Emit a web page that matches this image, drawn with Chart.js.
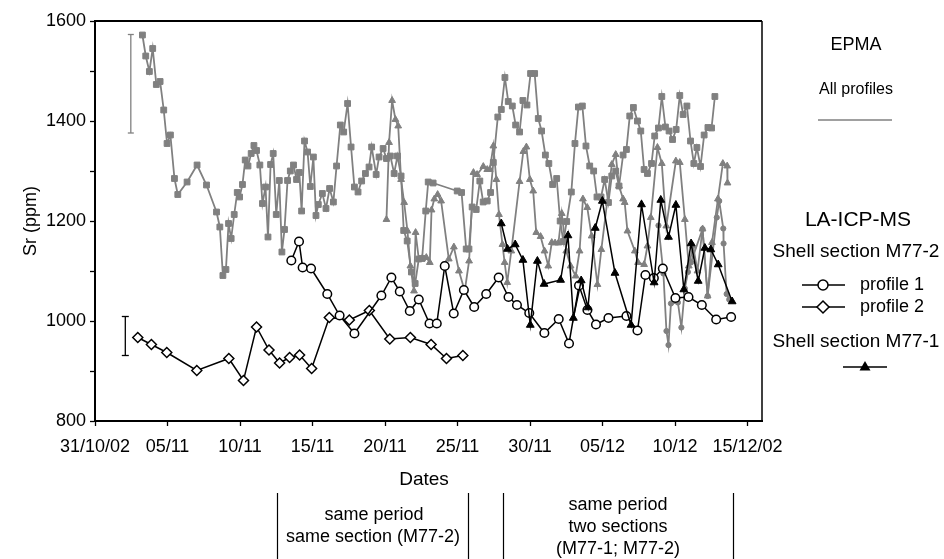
<!DOCTYPE html>
<html>
<head>
<meta charset="utf-8">
<script src="https://cdn.jsdelivr.net/npm/chart.js@4.4.1/dist/chart.umd.min.js"></script>
<style>
  html, body { margin: 0; padding: 0; background: #fff; }
  #wrap { width: 944px; height: 559px; }
</style>
</head>
<body>
<div id="wrap"><canvas id="c" width="944" height="559"></canvas></div>
<script>
// x values are days counted from 31/10/02
const xTickDays   = [0, 5, 10, 15, 20, 25, 30, 35, 40, 45];
const xTickLabels = ['31/10/02', '05/11', '10/11', '15/11', '20/11', '25/11', '30/11', '05/12', '10/12', '15/12/02'];
const yTickValues = [800, 900, 1000, 1100, 1200, 1300, 1400, 1500, 1600];

// EPMA, profile drawn with squares
const epmaSqDays = [3.27,3.50,3.75,3.98,4.23,4.49,4.74,4.97,5.20,5.48,5.71,6.35,7.04,7.69,8.38,8.61,8.82,9.03,9.21,9.39,9.60,9.81,9.97,10.17,10.36,10.55,10.77,10.96,11.14,11.37,11.55,11.76,11.93,12.11,12.29,12.50,12.71,12.89,13.07,13.28,13.47,13.69,13.90,14.09,14.25,14.45,14.66,14.85,15.06,15.24,15.40,15.68,15.93,16.18,16.44,16.66,16.92,17.15,17.42,17.66,17.89,18.14,18.39,18.65,18.90,19.08,19.39,19.59,19.87,20.10,20.37,20.63,20.86,21.11,21.29,21.53,21.82,22.08,22.33,22.56,22.81,22.98,23.32,24.98,25.28,25.60,25.79,26.01,26.29,26.54,26.77,27.05,27.28,27.47,27.78,28.02,28.27,28.50,28.78,29.01,29.28,29.51,29.79,30.04,30.32,30.57,30.80,31.06,31.30,31.56,31.84,32.08,32.30,32.53,32.85,33.10,33.34,33.61,33.86,34.12,34.39,34.62,34.90,35.15,35.41,35.64,35.91,36.14,36.42,36.65,36.88,37.13,37.41,37.64,37.87,38.10,38.38,38.60,38.86,39.09,39.34,39.59,39.83,40.08,40.33,40.56,40.82,41.07,41.30,41.51,41.76,42.01,42.27,42.52,42.75];
const epmaSqSr   = [1572,1530,1499,1545,1473,1479,1422,1355,1372,1285,1253,1278,1312,1272,1218,1188,1091,1103,1195,1165,1213,1257,1248,1273,1322,1310,1335,1351,1341,1312,1235,1268,1168,1313,1335,1213,1281,1138,1183,1281,1300,1312,1283,1297,1220,1360,1338,1269,1328,1211,1233,1255,1225,1265,1238,1310,1392,1378,1435,1348,1268,1258,1280,1295,1308,1348,1293,1328,1345,1325,1330,1295,1330,1290,1181,1160,1098,1075,1124,1125,1220,1278,1276,1260,1257,1144,1144,1228,1223,1280,1238,1240,1257,1317,1408,1423,1487,1439,1430,1392,1378,1441,1432,1495,1495,1405,1380,1332,1315,1273,1285,1200,1159,1199,1258,1355,1428,1430,1350,1310,1300,1248,1248,1283,1237,1290,1300,1270,1332,1343,1410,1427,1400,1380,1303,1295,1315,1370,1386,1449,1388,1380,1363,1383,1451,1413,1430,1360,1315,1347,1309,1372,1387,1386,1449];

// EPMA, profile drawn with triangles
const epmaTriDays = [20.10,20.28,20.49,20.72,20.91,21.11,21.32,21.55,21.75,22.00,22.11,22.33,22.56,22.85,23.09,23.21,23.40,23.63,23.87,24.40,24.75,25.10,25.50,25.80,26.10,26.35,26.78,27.05,27.23,27.47,27.68,27.86,28.10,28.25,28.43,28.71,29.28,29.54,29.75,29.99,30.22,30.43,30.73,31.00,31.26,31.50,31.73,31.96,32.19,32.50,32.80,33.15,33.42,33.65,33.95,34.25,34.65,34.92,35.64,35.91,36.14,36.42,36.53,36.72,37.23,37.45,37.87,38.10,38.33,38.79,39.09,39.40,40.06,40.33,40.68,40.95,41.25,41.55,41.90,42.25,42.55,42.96,43.30,43.60,43.62];
const epmaTriSr   = [1203,1357,1441,1403,1390,1283,1237,1180,1110,1060,1177,1124,1125,1127,1117,1222,1244,1253,1240,1124,1148,1100,1060,1120,1297,1293,1309,1303,1303,1350,1283,1213,1153,1117,1077,1140,1279,1339,1348,1283,1260,1177,1169,1140,1110,1157,1156,1156,1215,1140,1110,1090,1140,1244,1227,1170,1073,1143,1313,1333,1270,1244,1237,1180,1140,1117,1113,1150,1207,1347,1315,1190,1320,1317,1203,1110,1150,1100,1184,1050,1157,1244,1315,1310,1276];

// EPMA, profile drawn with small circles
const epmaCirDays = [38.86,39.20,39.41,39.55,39.72,40.20,40.44,40.68,40.89,41.10,41.90,42.25,42.88,43.05,43.33,43.35,43.56,43.74];
const epmaCirSr   = [1191,1095,980,952,1035,1037,987,1065,1098,1117,1184,1050,1207,1240,1185,1155,1054,1043];

// LA-ICP-MS, shell section M77-2, profile 1
const p1Days = [13.54,14.07,14.32,14.90,16.02,16.87,17.89,19.75,20.44,21.02,21.71,22.33,23.07,23.57,24.12,24.74,25.44,26.15,26.98,27.84,28.52,29.10,29.95,30.99,31.98,32.69,33.38,33.96,34.55,35.41,36.65,37.41,37.96,38.54,39.16,40.03,40.93,41.85,42.84,43.87];
const p1Sr   = [1121,1159,1107,1105,1054,1011,975,1051,1087,1059,1020,1043,995,995,1110,1015,1062,1028,1054,1087,1048,1032,1016,976,1004,955,1071,1022,993,1006,1010,981,1092,1086,1105,1046,1048,1032,1003,1008];

// LA-ICP-MS, shell section M77-2, profile 2
const p2Days = [2.95,3.89,4.95,7.02,9.23,10.24,11.14,12.00,12.73,13.42,14.11,14.94,16.16,17.54,18.92,20.33,21.75,23.18,24.24,25.37];
const p2Sr   = [967,953,937,901,925,881,988,942,916,927,932,905,1007,1002,1021,964,967,953,925,931];

// LA-ICP-MS, shell section M77-1
const m771Days = [28.02,28.45,28.98,29.51,30.02,30.51,30.97,32.11,32.62,32.99,33.53,34.00,34.50,34.99,35.86,36.97,37.69,38.56,39.02,39.55,40.06,40.61,41.11,41.60,42.06,42.47,42.98,43.94];
const m771Sr   = [1195,1144,1153,1122,992,1120,1074,1082,1171,1006,1081,1027,1186,1240,1096,992,1233,1077,1242,1168,1232,1063,1155,1080,1146,1143,1113,1039];

// error bars: [day, low, high]
const epmaErr = [2.47, 1376, 1573];
const laErr   = [2.09, 931, 1009];

const GREY = '#808080';
const FONT = "'Liberation Sans', Arial, sans-serif";

const pts = (xs, ys) => xs.map((x, i) => ({ x, y: ys[i] }));
const bar = e => [{ x: e[0], y: e[1] }, { x: e[0], y: e[2] }];

Chart.defaults.font.family = FONT;
Chart.defaults.color = '#000';

// frame, axis titles, legend block and period brackets
const extras = {
  id: 'extras',
  afterDraw(chart) {
    const ctx = chart.ctx;
    const a = chart.chartArea;
    ctx.save();
    ctx.strokeStyle = '#000';
    ctx.lineWidth = 2;
    ctx.beginPath();
    ctx.moveTo(a.left, a.top);
    ctx.lineTo(a.right, a.top);
    ctx.stroke();
    ctx.lineWidth = 1.5;
    ctx.beginPath();
    ctx.moveTo(a.right, a.top);
    ctx.lineTo(a.right, a.bottom);
    ctx.stroke();

    ctx.fillStyle = '#000';
    ctx.textAlign = 'center';
    ctx.textBaseline = 'middle';

    // y title
    ctx.save();
    ctx.translate(31, (a.top + a.bottom) / 2);
    ctx.rotate(-Math.PI / 2);
    ctx.font = '18px ' + FONT;
    ctx.fillText('Sr (ppm)', 0, 0);
    ctx.restore();

    // x title
    ctx.font = '19px ' + FONT;
    ctx.fillText('Dates', 424, 480);

    // period brackets
    ctx.lineWidth = 1.2;
    ctx.beginPath();
    [277, 468, 503, 733].forEach(x => { ctx.moveTo(x + 0.5, 493); ctx.lineTo(x + 0.5, 559); });
    ctx.stroke();
    ctx.font = '18px ' + FONT;
    ctx.fillText('same period', 374, 515);
    ctx.fillText('same section (M77-2)', 373, 537);
    ctx.fillText('same period', 618, 505);
    ctx.fillText('two sections', 618, 527);
    ctx.fillText('(M77-1; M77-2)', 618, 549);

    // legend block
    const cx = 856;
    ctx.font = '18px ' + FONT;
    ctx.fillText('EPMA', cx, 45);
    ctx.font = '16px ' + FONT;
    ctx.fillText('All profiles', cx, 90);
    ctx.strokeStyle = GREY;
    ctx.lineWidth = 1.5;
    ctx.beginPath(); ctx.moveTo(818, 120); ctx.lineTo(892, 120); ctx.stroke();

    ctx.font = '21px ' + FONT;
    ctx.fillText('LA-ICP-MS', 858, 220);
    ctx.font = '19px ' + FONT;
    ctx.fillText('Shell section M77-2', cx, 252);
    ctx.fillText('Shell section M77-1', cx, 342);
    ctx.font = '18px ' + FONT;
    ctx.textAlign = 'left';
    ctx.fillText('profile 1', 860, 285);
    ctx.fillText('profile 2', 860, 307);

    ctx.strokeStyle = '#000';
    ctx.lineWidth = 1.3;
    ctx.beginPath();
    ctx.moveTo(802, 285); ctx.lineTo(845, 285);
    ctx.moveTo(802, 307); ctx.lineTo(845, 307);
    ctx.moveTo(843, 367); ctx.lineTo(887, 367);
    ctx.stroke();
    ctx.fillStyle = '#fff';
    ctx.lineWidth = 1.5;
    ctx.beginPath();
    ctx.arc(823, 285, 5, 0, Math.PI * 2);
    ctx.fill(); ctx.stroke();
    ctx.beginPath();
    ctx.moveTo(823, 301); ctx.lineTo(829, 307); ctx.lineTo(823, 313); ctx.lineTo(817, 307); ctx.closePath();
    ctx.fill(); ctx.stroke();
    ctx.fillStyle = '#000';
    ctx.beginPath();
    ctx.moveTo(865, 361); ctx.lineTo(870.5, 370.5); ctx.lineTo(859.5, 370.5); ctx.closePath();
    ctx.fill();
    ctx.restore();
  }
};

new Chart(document.getElementById('c'), {
  type: 'scatter',
  data: {
    datasets: [
      { label: 'M77-1', data: pts(m771Days, m771Sr), showLine: true, order: 1,
        borderColor: '#000', borderWidth: 1.5, pointStyle: 'triangle', pointRadius: 4.5,
        pointBackgroundColor: '#000', pointBorderColor: '#000', pointBorderWidth: 1 },
      { label: 'profile 1', data: pts(p1Days, p1Sr), showLine: true, order: 2,
        borderColor: '#000', borderWidth: 1.5, pointStyle: 'circle', pointRadius: 4.3,
        pointBackgroundColor: '#fff', pointBorderColor: '#000', pointBorderWidth: 1.5 },
      { label: 'profile 2', data: pts(p2Days, p2Sr), showLine: true, order: 3,
        borderColor: '#000', borderWidth: 1.5, pointStyle: 'rectRot', pointRadius: 5,
        pointBackgroundColor: '#fff', pointBorderColor: '#000', pointBorderWidth: 1.5 },
      { label: 'LA error', data: bar(laErr), showLine: true, order: 4,
        borderColor: '#000', borderWidth: 1.3, pointStyle: 'line', pointRadius: 3.5,
        pointBorderColor: '#000', pointBorderWidth: 1.3 },
      { label: 'EPMA circles', data: pts(epmaCirDays, epmaCirSr), showLine: true, order: 5,
        borderColor: GREY, borderWidth: 1.8, pointStyle: 'circle', pointRadius: 2.6,
        pointBackgroundColor: GREY, pointBorderColor: GREY, pointBorderWidth: 1 },
      { label: 'EPMA triangles', data: pts(epmaTriDays, epmaTriSr), showLine: true, order: 6,
        borderColor: GREY, borderWidth: 1.8, pointStyle: 'triangle', pointRadius: 3.9,
        pointBackgroundColor: GREY, pointBorderColor: GREY, pointBorderWidth: 1 },
      { label: 'EPMA squares', data: pts(epmaSqDays, epmaSqSr), showLine: true, order: 7,
        borderColor: GREY, borderWidth: 1.8, pointStyle: 'rect', pointRadius: 4.1,
        pointBackgroundColor: GREY, pointBorderColor: GREY, pointBorderWidth: 1 },
      { label: 'EPMA error', data: bar(epmaErr), showLine: true, order: 8,
        borderColor: GREY, borderWidth: 1.3, pointStyle: 'line', pointRadius: 3,
        pointBorderColor: GREY, pointBorderWidth: 1.3 }
    ]
  },
  options: {
    responsive: false,
    animation: false,
    devicePixelRatio: 1,
    layout: { padding: { top: 21, right: 182, left: 0, bottom: 0 } },
    plugins: { legend: { display: false }, tooltip: { enabled: false } },
    elements: { line: { tension: 0 } },
    scales: {
      x: {
        type: 'linear', position: 'bottom', min: 0, max: 46,
        afterBuildTicks: s => { s.ticks = xTickDays.map(v => ({ value: v })); },
        afterFit: s => { s.height = 138; },
        ticks: {
          autoSkip: false, maxRotation: 0, padding: 10,
          font: { size: 18 },
          callback: v => { const i = xTickDays.indexOf(v); return i < 0 ? '' : xTickLabels[i]; }
        },
        grid: { drawOnChartArea: false, drawTicks: true, tickLength: 5, color: '#000', tickWidth: 1.3 },
        border: { display: true, color: '#000', width: 2 }
      },
      y: {
        type: 'linear', min: 800, max: 1600,
        afterBuildTicks: s => { s.ticks = yTickValues.map(v => ({ value: v })); },
        afterFit: s => { s.width = 95; },
        ticks: {
          padding: 4, font: { size: 18 },
          callback: v => (v % 200 === 0 ? String(v) : '')
        },
        grid: { drawOnChartArea: false, drawTicks: true, tickLength: 5, color: '#000', tickWidth: 1.3 },
        border: { display: true, color: '#000', width: 2 }
      }
    }
  },
  plugins: [extras]
});
</script>
</body>
</html>
